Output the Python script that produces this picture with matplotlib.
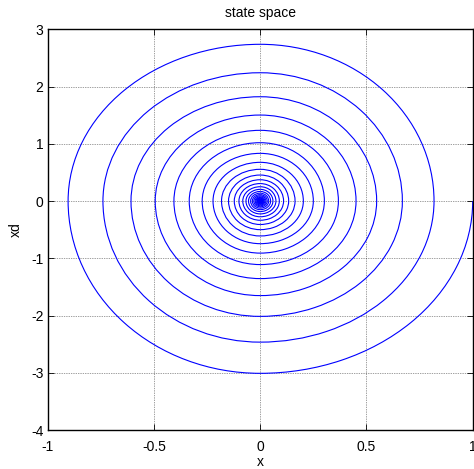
import matplotlib
matplotlib.use("Agg")
import matplotlib.pyplot as plt
from matplotlib.patches import Arc

plt.rcParams['font.family'] = ['Liberation Sans', 'DejaVu Sans']
plt.rcParams['axes.unicode_minus'] = False

# Axis crossings of the phase-space spiral, in the order the
# trajectory meets them (half-turn by half-turn).
# x where xd = 0 (alternating right / left of origin)
x_cross = [1.0, -0.904, 0.818, -0.740, 0.669, -0.608, 0.548, -0.494, 0.451, -0.406,
           0.368, -0.334, 0.302, -0.273, 0.250, -0.222, 0.203, -0.182, 0.164, -0.149,
           0.134, -0.122, 0.110, -0.100, 0.090, -0.082, 0.074, -0.067, 0.060, -0.055,
           0.049, -0.045, 0.040, -0.037, 0.033, -0.030, 0.027, -0.024, 0.022, -0.020,
           0.018, -0.016, 0.015, -0.013, 0.012, -0.011, 0.010, -0.009, 0.0082, -0.0074,
           0.0067, -0.0061, 0.0055, -0.005, 0.0045, -0.0041, 0.0037, -0.0033, 0.003,
           -0.0027, 0.0025, -0.0022, 0.002]
# xd where x = 0 (alternating bottom / top)
xd_cross = [-3.01, 2.738, -2.465, 2.241, -2.015, 1.822, -1.652, 1.502, -1.355, 1.235,
            -1.11, 1.019, -0.91, 0.833, -0.745, 0.676, -0.61, 0.554, -0.50, 0.454,
            -0.41, 0.372, -0.336, 0.305, -0.275, 0.25, -0.225, 0.204, -0.184, 0.167,
            -0.151, 0.137, -0.124, 0.112, -0.101, 0.092, -0.083, 0.075, -0.068, 0.061,
            -0.055, 0.050, -0.045, 0.041, -0.037, 0.033, -0.030, 0.027, -0.0245, 0.022,
            -0.020, 0.018, -0.0165, 0.015, -0.0135, 0.0122, -0.011, 0.010, -0.009,
            0.0082, -0.0074, 0.0067, -0.006]

x_ticks = [-1, -0.5, 0, 0.5, 1]
x_ticklabels = ['-1', '-0.5', '0', '0.5', '1']
y_ticks = [-4, -3, -2, -1, 0, 1, 2, 3]
y_ticklabels = ['-4', '-3', '-2', '-1', '0', '1', '2', '3']

fig = plt.figure(figsize=(4.74, 4.69), dpi=100)
ax = fig.add_axes([47.7 / 474, 39 / 469, 425 / 474, 400.7 / 469])

line_kw = dict(color=(0, 0, 1), linewidth=0.8)


def quadrant(xv, yv):
    if xv >= 0 and yv < 0:
        return 270, 360
    if xv < 0 and yv < 0:
        return 180, 270
    if xv < 0 and yv >= 0:
        return 90, 180
    return 0, 90


n = min(len(x_cross), len(xd_cross))
for i in range(n):
    # from x crossing i to xd crossing i
    t1, t2 = quadrant(x_cross[i], xd_cross[i])
    ax.add_patch(Arc((0, 0), 2 * abs(x_cross[i]), 2 * abs(xd_cross[i]),
                     theta1=t1, theta2=t2, **line_kw))
    # from xd crossing i to x crossing i+1
    if i + 1 < len(x_cross):
        t1, t2 = quadrant(x_cross[i + 1], xd_cross[i])
        ax.add_patch(Arc((0, 0), 2 * abs(x_cross[i + 1]), 2 * abs(xd_cross[i]),
                         theta1=t1, theta2=t2, **line_kw))

ax.set_xlim(-1, 1)
ax.set_ylim(-4, 3)
ax.set_xticks(x_ticks)
ax.set_xticklabels(x_ticklabels)
ax.set_yticks(y_ticks)
ax.set_yticklabels(y_ticklabels)
ax.tick_params(direction='in', top=True, right=True, length=4, width=0.6,
               labelsize=10, colors='black')
ax.tick_params(axis='x', pad=7)
ax.tick_params(axis='y', pad=3)
ax.grid(True, color='black', linestyle=(0, (1, 1.5)), linewidth=0.5, alpha=0.75)
ax.set_axisbelow(True)
for s in ax.spines.values():
    s.set_linewidth(1.0)
    s.set_color('black')

ax.set_title('state space', fontsize=10, pad=9)
ax.set_xlabel('x', fontsize=10, labelpad=1)
ax.set_ylabel('xd', fontsize=10, labelpad=6)

fig.savefig('out.png', dpi=100, facecolor='white')
